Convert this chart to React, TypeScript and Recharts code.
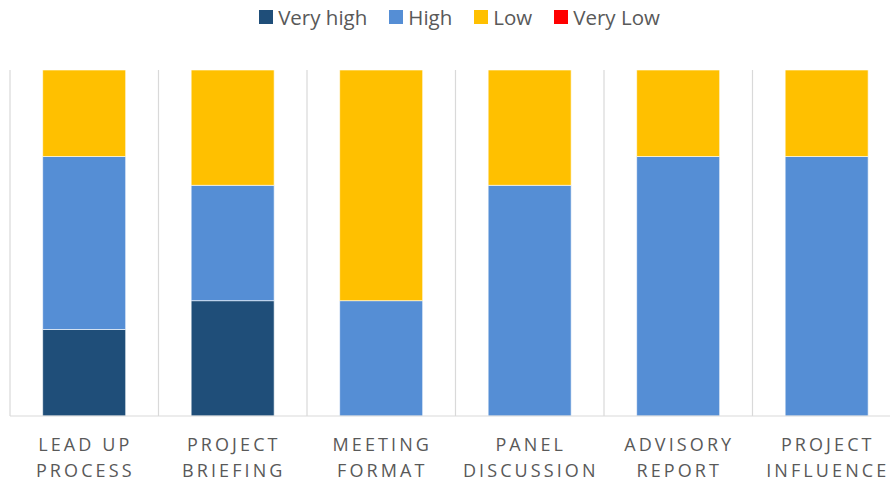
import { Bar, BarChart, CartesianGrid, Legend, XAxis, YAxis } from 'recharts'

// answers per topic, shown as share of all answers (stackOffset "expand")
const topicLine1 = ['LEAD UP', 'PROJECT', 'MEETING', 'PANEL', 'ADVISORY', 'PROJECT']
const topicLine2 = ['PROCESS', 'BRIEFING', 'FORMAT', 'DISCUSSION', 'REPORT', 'INFLUENCE']
const veryHigh = [1, 1, 0, 0, 0, 0]
const high = [2, 1, 1, 2, 3, 3]
const low = [1, 1, 2, 1, 1, 1]
const veryLow = [0, 0, 0, 0, 0, 0]

const SERIES = [
  { key: 'veryHigh', name: 'Very high', color: '#1F4E79' },
  { key: 'high', name: 'High', color: '#558ED5' },
  { key: 'low', name: 'Low', color: '#FFC000' },
  { key: 'veryLow', name: 'Very Low', color: '#FF0000' },
]

const data = topicLine1.map((l1, i) => ({
  topic: `${l1} ${topicLine2[i]}`,
  line1: l1,
  line2: topicLine2[i],
  veryHigh: veryHigh[i],
  high: high[i],
  low: low[i],
  veryLow: veryLow[i],
}))

const TEXT = '#595959'
const GRID = '#D9D9D9'
const FONT = '"Open Sans", sans-serif'
const LEGEND_H = 26

function TopicTick({ x, y, index }: any) {
  const row = data[index]
  if (!row) return null
  return (
    <text
      x={x}
      y={y}
      textAnchor="middle"
      fill={TEXT}
      fontSize={18}
      fontFamily={FONT}
      letterSpacing={3.1}
    >
      <tspan x={x + 1} dy={35}>{row.line1}</tspan>
      <tspan x={x + 1} dy={26}>{row.line2}</tspan>
    </text>
  )
}

function SquareLegend() {
  return (
    <div
      style={{
        display: 'flex',
        justifyContent: 'center',
        gap: 22,
        height: LEGEND_H,
        fontFamily: FONT,
        fontSize: 20.5,
        lineHeight: `${LEGEND_H}px`,
        color: TEXT,
        paddingLeft: 8,
      }}
    >
      {SERIES.map((s) => (
        <div key={s.key} style={{ display: 'flex', alignItems: 'center', gap: 5 }}>
          <span style={{ width: 14, height: 14, background: s.color, display: 'inline-block' }} />
          <span>{s.name}</span>
        </div>
      ))}
    </div>
  )
}

export default function App() {
  return (
    <div
      style={{
        position: 'absolute',
        left: 0,
        top: 0,
        width: 890,
        height: 482,
        overflow: 'hidden',
        background: '#fff',
      }}
    >
      <BarChart
        width={910}
        height={482}
        data={data}
        stackOffset="expand"
        barCategoryGap="22%"
        margin={{ top: 70 - LEGEND_H, right: 9, bottom: 0, left: 10 }}
      >
        <CartesianGrid
          horizontal={false}
          stroke={GRID}
          strokeWidth={1.2}
          verticalCoordinatesGenerator={({ offset }: any) =>
            data.map((_, i) => offset.left + (i * offset.width) / data.length).concat(offset.left + offset.width)
          }
        />
        <XAxis
          dataKey="topic"
          height={66}
          interval={0}
          tickLine={false}
          tickSize={0}
          tickMargin={0}
          axisLine={{ stroke: GRID, strokeWidth: 1.2 }}
          tick={<TopicTick />}
        />
        <YAxis hide domain={[0, 1]} />
        <Legend
          verticalAlign="top"
          align="center"
          height={LEGEND_H}
          wrapperStyle={{ top: 4 }}
          content={<SquareLegend />}
        />
        {SERIES.map((s) => (
          <Bar
            key={s.key}
            dataKey={s.key}
            name={s.name}
            stackId="a"
            fill={s.color}
            stroke="#ffffff"
            strokeWidth={0.6}
            isAnimationActive={false}
          />
        ))}
      </BarChart>
    </div>
  )
}
